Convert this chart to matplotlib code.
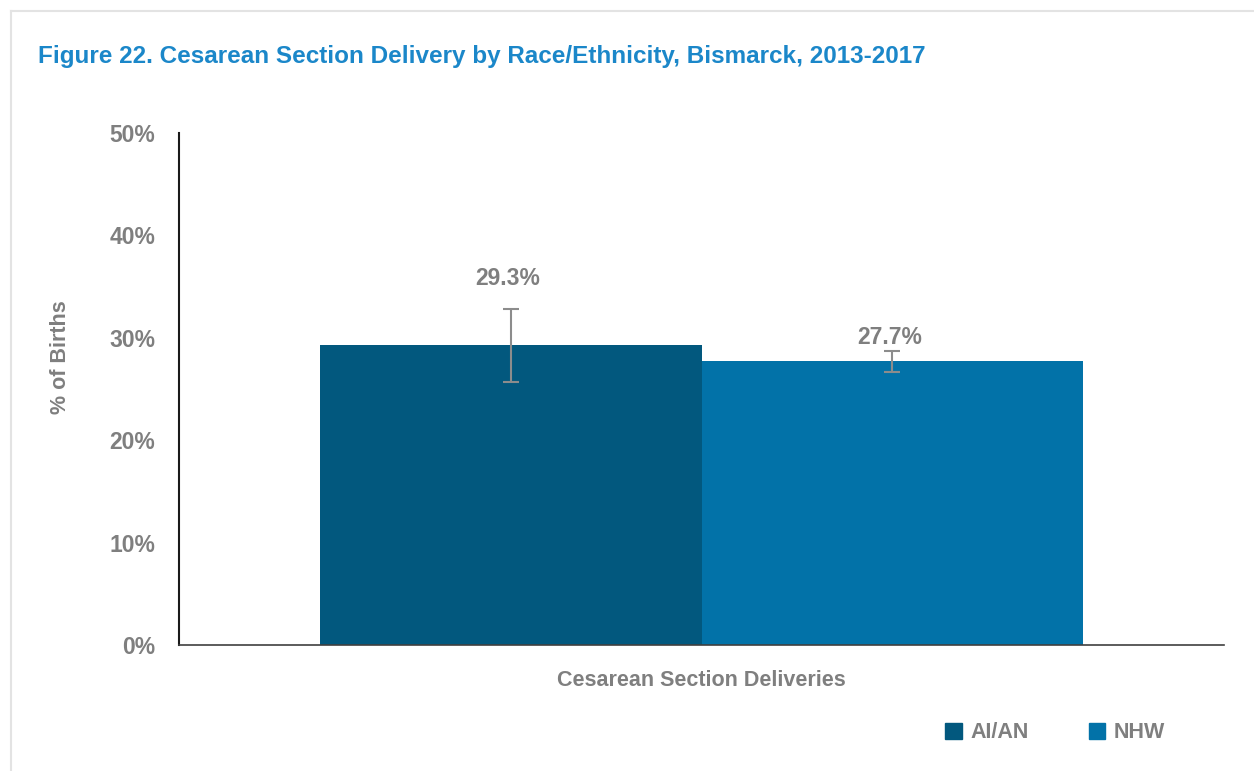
import matplotlib.pyplot as plt
from matplotlib.patches import Rectangle
from matplotlib.lines import Line2D

plt.rcParams['font.family'] = ['Liberation Sans Narrow', 'Liberation Sans', 'DejaVu Sans']
plt.rcParams['font.weight'] = 'bold'

groups = ['AI/AN', 'NHW']
values = [29.3, 27.7]
err_low = [25.7, 26.7]
err_high = [32.8, 28.7]
category = 'Cesarean Section Deliveries'
title = 'Figure 22. Cesarean Section Delivery by Race/Ethnicity, Bismarck, 2013-2017'

colors = ['#02587e', '#0272a8']
gray = '#7f7f7f'
label_offsets = [31, 14]  # px above error-bar top

fig = plt.figure(figsize=(12.54, 7.71), dpi=100)
ax = fig.add_axes([179 / 1254, 1 - 645 / 771, (1224 - 179) / 1254, (645 - 133) / 771])

# outer frame line of the original chart box
fig.add_artist(Line2D([11 / 1254, 11 / 1254], [0, 1 - 11 / 771], transform=fig.transFigure, color='#e3e3e3', lw=1.5))
fig.add_artist(Line2D([11 / 1254, 1], [1 - 11 / 771, 1 - 11 / 771], transform=fig.transFigure, color='#e3e3e3', lw=1.5))

width = 0.365
xs = [-width / 2, width / 2]
for i, g in enumerate(groups):
    ax.bar(xs[i], values[i], width=width, color=colors[i], label=g)
    lo = values[i] - err_low[i]
    hi = err_high[i] - values[i]
    ax.errorbar(xs[i], values[i], yerr=[[lo], [hi]], fmt='none', ecolor='#8c8c8c', elinewidth=1.5, capsize=6, capthick=1.5)
    ax.annotate(f'{values[i]:.1f}%', (xs[i], err_high[i]), xytext=(-3, label_offsets[i]), textcoords='offset pixels',
                ha='center', va='center', fontsize=16.5, color=gray, fontweight='bold')

ax.set_xlim(-0.5, 0.5)
ax.set_ylim(0, 50)
ax.set_yticks(range(0, 51, 10))
ax.set_yticklabels([f'{t}%' for t in range(0, 51, 10)], fontsize=16.5, color=gray, fontweight='bold')
ax.tick_params(axis='y', length=0, pad=17)
ax.set_xticks([])
for s in ['top', 'right']:
    ax.spines[s].set_visible(False)
ax.spines['left'].set_color('#1a1a1a')
ax.spines['bottom'].set_color('#404040')
ax.spines['left'].set_linewidth(1.5)
ax.spines['bottom'].set_linewidth(1.2)

ax.set_ylabel('% of Births', fontsize=15.5, color=gray, fontweight='bold')
ax.yaxis.set_label_coords(-0.1036, 0.5625)
ax.set_xlabel(category, fontsize=15.5, color=gray, fontweight='bold', labelpad=18)

fig.text(38 / 1254, 1 - 57 / 771, title, fontsize=17.5, color='#1b87c9', fontweight='bold', va='center', ha='left')

handles = [Rectangle((0, 0), 1, 1, color=c) for c in colors]
fig.legend(handles, groups, loc='center left', bbox_to_anchor=(926 / 1254, 1 - 733 / 771), ncol=2, frameon=False,
           labelcolor=gray, handlelength=0.75, handleheight=0.75, handletextpad=0.4, columnspacing=2.8,
           prop={'weight': 'bold', 'size': 15.5})

fig.savefig('out.png', dpi=100)
